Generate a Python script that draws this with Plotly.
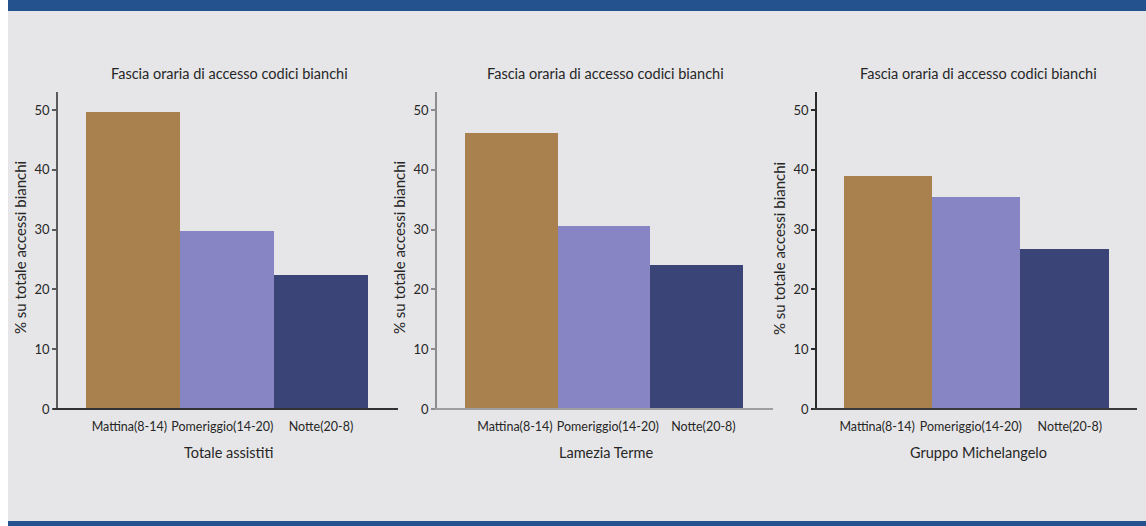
import plotly.graph_objects as go

# --- data -------------------------------------------------------------
fasce = ["Mattina(8-14)", "Pomeriggio(14-20)", "Notte(20-8)"]
totale_assistiti = [49.6, 29.7, 22.4]
lamezia_terme = [46.2, 30.6, 24.1]
gruppo_michelangelo = [38.9, 35.4, 26.7]
gruppi = ["Totale assistiti", "Lamezia Terme", "Gruppo Michelangelo"]
titolo = "Fascia oraria di accesso codici bianchi"
titolo_y = "% su totale accessi bianchi"
y_ticks = [0, 10, 20, 30, 40, 50]

# --- page geometry (pixels of a 1146 x 526 frame) ----------------------
W, H = 1146, 526
H_FIG = 534
FONT = "Lato"
TXT = "#262626"
colori = ["#a9814f", "#8785c3", "#3a4476"]

def px(x):
    return x / W

def py(y):
    return 1 - y / H

# per panel: y-axis x position, right end of x axis, left start of x-axis line,
# axis colours, positions of the category labels along the axis
pannelli = [
    dict(x0=58, x1=398, xl=53, ycol="#5a5a5a", xcol="#333333",
         etichette=[-0.04, 0.95, 2.0]),
    dict(x0=437, x1=773, xl=435, ycol="#8c8c8c", xcol="#9e9e9e",
         etichette=[0.04, 1.04, 2.07]),
    dict(x0=817, x1=1137, xl=813, ycol="#2a2a2a", xcol="#3a3a3a",
         etichette=[-0.12, 0.94, 2.06]),
]
serie = [totale_assistiti, lamezia_terme, gruppo_michelangelo]

Y_TOP, Y_ZERO = 92, 409
y_dom = [py(Y_ZERO), py(Y_TOP)]
y_rng = [0, 53]
x_rng = [-0.8, 2.82]

fig = go.Figure()
layout = dict(
    width=W, height=H_FIG, autosize=False,
    margin=dict(l=0, r=0, t=0, b=0),
    paper_bgcolor="#e6e6e8",
    plot_bgcolor="rgba(0,0,0,0)",
    showlegend=False,
    bargap=0,
    font=dict(family=FONT, color=TXT),
)
shapes = []
annotations = []

for i, (p, valori, gruppo) in enumerate(zip(pannelli, serie, gruppi)):
    sfx = "" if i == 0 else str(i + 1)
    xa, ya = "x" + sfx, "y" + sfx
    xl_name = "x" + str(i + 4)          # label axis overlaying the bar axis
    fig.add_trace(go.Bar(
        x=fasce, y=valori, xaxis=xa, yaxis=ya,
        marker=dict(color=colori, line=dict(width=0)),
        width=1, hoverinfo="x+y",
    ))
    fig.add_trace(go.Scatter(
        x=[], y=[], xaxis=xl_name, yaxis=ya, mode="markers",
        hoverinfo="skip",
    ))
    dom = [px(p["x0"]), px(p["x1"])]
    layout["xaxis" + sfx] = dict(
        domain=dom, anchor=ya,
        type="category", range=x_rng,
        showline=False, showgrid=False, zeroline=False, ticks="",
        showticklabels=False,
    )
    layout["xaxis" + str(i + 4)] = dict(
        domain=dom, anchor=ya, overlaying=xa, side="bottom",
        range=x_rng, tickvals=p["etichette"], ticktext=fasce,
        showline=False, showgrid=False, zeroline=False, ticks="",
        tickangle=0,
        tickfont=dict(size=12.5, family=FONT, color=TXT),
        ticklabelstandoff=8,
    )
    layout["yaxis" + sfx] = dict(
        domain=y_dom, anchor=xa, range=y_rng,
        tickvals=y_ticks, ticktext=[str(v) for v in y_ticks],
        showline=True, linecolor=p["ycol"], linewidth=1.5,
        ticks="outside", ticklen=4, tickcolor=p["ycol"], tickwidth=1.5,
        showgrid=False, zeroline=False,
        tickfont=dict(size=13, family=FONT, color=TXT),
    )
    # baseline of the bars
    shapes.append(dict(
        type="line", xref="paper", yref="paper",
        x0=px(p["xl"]), x1=px(p["x1"]), y0=py(Y_ZERO), y1=py(Y_ZERO),
        line=dict(color=p["xcol"], width=2), layer="above",
    ))
    centro = (p["x0"] + p["x1"]) / 2 + 1
    annotations.append(dict(
        text=titolo, xref="paper", yref="paper",
        x=px(centro), y=py(73), xanchor="center", yanchor="middle",
        showarrow=False, font=dict(size=14.5, family=FONT, color=TXT),
    ))
    annotations.append(dict(
        text=gruppo, xref="paper", yref="paper",
        x=px(centro), y=py(452), xanchor="center", yanchor="middle",
        showarrow=False, font=dict(size=14.5, family=FONT, color=TXT),
    ))
    annotations.append(dict(
        text=titolo_y, xref="paper", yref="paper",
        x=px(p["x0"] - 38), y=py(248), xanchor="center", yanchor="middle",
        textangle=-90, showarrow=False,
        font=dict(size=15, family=FONT, color=TXT),
    ))

# header and footer bands, left white edge
shapes += [
    dict(type="rect", xref="paper", yref="paper", x0=0, x1=1,
         y0=py(11), y1=1, fillcolor="#24528f", line=dict(width=0),
         layer="below"),
    dict(type="rect", xref="paper", yref="paper", x0=0, x1=1,
         y0=0, y1=py(521), fillcolor="#24528f", line=dict(width=0),
         layer="below"),
    dict(type="rect", xref="paper", yref="paper", x0=0, x1=px(8),
         y0=0, y1=1, fillcolor="#ffffff", line=dict(width=0),
         layer="above"),
]

layout["shapes"] = shapes
layout["annotations"] = annotations
fig.update_layout(**layout)

page_css = (
    "document.documentElement.style.margin='0';"
    "document.body.style.margin='0';"
    "document.documentElement.style.overflow='hidden';"
    "document.body.style.overflow='hidden';"
)
fig.write_html("out.html", post_script=page_css)
